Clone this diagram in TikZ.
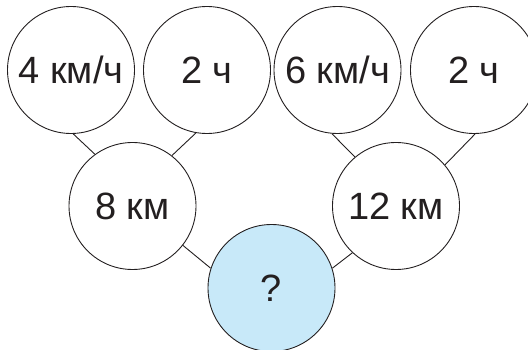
\documentclass[tikz,border=0pt]{standalone}
\usepackage{fontspec}
\setmainfont{Liberation Sans}
\definecolor{askblue}{HTML}{C8E9F9}
\definecolor{ink}{HTML}{231F20}
\begin{document}
\begin{tikzpicture}[x=1pt,y=-1pt,
  bub/.style={draw=ink,circle,line width=0.9pt,minimum size=127pt,inner sep=0pt,fill=#1,
              text=ink,font=\fontsize{38}{44}\selectfont},bub/.default=white,
  link/.style={draw=ink,line width=0.9pt}]
  \useasboundingbox (0,0) rectangle (528,350);
  \clip (0,0) rectangle (528,350);
  \node[bub] (v1) at (71,70) {4 км/ч};
  \node[bub] (t1) at (207,70) {2 ч};
  \node[bub] (v2) at (337.5,70) {6 км/ч};
  \node[bub] (t2) at (474,70) {2 ч};
  \node[bub] (s1) at (132.5,206) {8 км};
  \node[bub] (s2) at (396,206) {12 км};
  \node[bub=askblue] (q) at (271.5,288) {?};
  \draw[link] (v1.-88) -- (s1.126);
  \draw[link] (t1.-100) -- (s1.52);
  \draw[link] (v2.-95) -- (s2.130);
  \draw[link] (t2.-89) -- (s2.40);
  \draw[link] (s1.-38) -- (q.162);
  \draw[link] (s2.-133) -- (q.18);
\end{tikzpicture}
\end{document}
